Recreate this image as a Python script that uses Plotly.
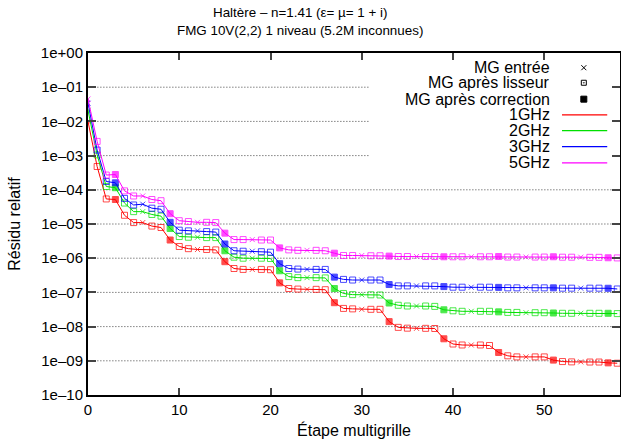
import plotly.graph_objects as go

# residu relatif par etape, etapes 0..58
steps = list(range(59))

res_1ghz = [1.0e-2, 4.8e-4, 5.4e-5, 5.2e-5, 1.8e-5, 1.1e-5, 1.1e-5, 8.7e-6, 7.9e-6, 3.4e-6,
            2.2e-6, 1.9e-6, 1.8e-6, 1.8e-6, 1.75e-6, 7.9e-7, 5.0e-7, 4.7e-7, 4.7e-7, 4.7e-7,
            4.6e-7, 1.9e-7, 1.3e-7, 1.25e-7, 1.23e-7, 1.23e-7, 1.2e-7, 5.0e-8, 3.4e-8, 3.3e-8,
            3.2e-8, 3.2e-8, 3.2e-8, 1.4e-8, 9.5e-9, 9.0e-9, 8.9e-9, 8.9e-9, 8.8e-9, 4.4e-9,
            3.1e-9, 2.9e-9, 2.9e-9, 2.9e-9, 2.8e-9, 1.75e-9, 1.4e-9, 1.3e-9, 1.3e-9, 1.3e-9,
            1.3e-9, 1.05e-9, 9.5e-10, 9.3e-10, 9.3e-10, 9.2e-10, 9.2e-10, 8.7e-10, 8.5e-10]

res_2ghz = [2.1e-2, 1.05e-3, 1.25e-4, 1.15e-4, 4.1e-5, 2.3e-5, 2.3e-5, 1.9e-5, 1.7e-5, 7.4e-6,
            4.3e-6, 4.1e-6, 4.1e-6, 4.0e-6, 4.0e-6, 1.65e-6, 1.07e-6, 1.0e-6, 1.0e-6, 1.0e-6,
            9.8e-7, 4.3e-7, 2.9e-7, 2.7e-7, 2.7e-7, 2.7e-7, 2.65e-7, 1.3e-7, 9.3e-8, 8.6e-8,
            8.5e-8, 8.5e-8, 8.4e-8, 4.9e-8, 4.2e-8, 4.0e-8, 4.0e-8, 4.0e-8, 3.9e-8, 3.1e-8,
            2.9e-8, 2.8e-8, 2.8e-8, 2.8e-8, 2.8e-8, 2.7e-8, 2.6e-8, 2.6e-8, 2.55e-8, 2.55e-8,
            2.55e-8, 2.5e-8, 2.45e-8, 2.45e-8, 2.45e-8, 2.45e-8, 2.45e-8, 2.45e-8, 2.4e-8]

res_3ghz = [3.4e-2, 1.45e-3, 1.75e-4, 1.6e-4, 5.6e-5, 3.6e-5, 3.8e-5, 2.9e-5, 2.7e-5, 1.12e-5,
            6.6e-6, 6.3e-6, 6.3e-6, 6.0e-6, 5.8e-6, 2.6e-6, 1.65e-6, 1.6e-6, 1.6e-6, 1.55e-6,
            1.5e-6, 6.9e-7, 5.0e-7, 4.8e-7, 4.7e-7, 4.7e-7, 4.7e-7, 2.8e-7, 2.4e-7, 2.3e-7,
            2.3e-7, 2.3e-7, 2.3e-7, 1.7e-7, 1.55e-7, 1.55e-7, 1.55e-7, 1.55e-7, 1.55e-7, 1.48e-7,
            1.42e-7, 1.42e-7, 1.42e-7, 1.42e-7, 1.42e-7, 1.4e-7, 1.36e-7, 1.36e-7, 1.36e-7, 1.36e-7,
            1.36e-7, 1.36e-7, 1.33e-7, 1.33e-7, 1.33e-7, 1.33e-7, 1.33e-7, 1.32e-7, 1.26e-7]

res_5ghz = [4.5e-2, 2.6e-3, 2.7e-4, 2.8e-4, 9.3e-5, 6.6e-5, 6.6e-5, 5.2e-5, 4.8e-5, 2.0e-5,
            1.25e-5, 1.18e-5, 1.12e-5, 1.12e-5, 1.1e-5, 5.4e-6, 3.5e-6, 3.5e-6, 3.5e-6, 3.4e-6,
            3.4e-6, 2.0e-6, 1.75e-6, 1.7e-6, 1.7e-6, 1.7e-6, 1.65e-6, 1.4e-6, 1.2e-6, 1.2e-6,
            1.2e-6, 1.18e-6, 1.18e-6, 1.15e-6, 1.12e-6, 1.12e-6, 1.12e-6, 1.12e-6, 1.12e-6, 1.1e-6,
            1.1e-6, 1.1e-6, 1.1e-6, 1.1e-6, 1.1e-6, 1.12e-6, 1.08e-6, 1.08e-6, 1.08e-6, 1.08e-6,
            1.08e-6, 1.1e-6, 1.07e-6, 1.07e-6, 1.07e-6, 1.06e-6, 1.06e-6, 1.03e-6, 1.02e-6]

series_names = ['1GHz', '2GHz', '3GHz', '5GHz']
series_colors = ['#ff0000', '#00e000', '#0000ff', '#ff00ff']
series_values = [res_1ghz, res_2ghz, res_3ghz, res_5ghz]

marker_names = ['MG entrée', 'MG après lisseur', 'MG après correction']

ytick_vals = [10.0 ** (-k) for k in range(11)]
ytick_text = ['1e+00'] + ['1e–%02d' % k for k in range(1, 11)]
xtick_vals = [0, 10, 20, 30, 40, 50]


# cycle V(2,2) : entree (x), 2 lissages, correction, 2 lissages
def step_symbol(s):
    if s % 6 == 0:
        return 'x-thin'
    if s % 6 == 3:
        return 'square'
    return 'square-open'


symbols = [step_symbol(s) for s in steps]
sizes = [5 if sym == 'x-thin' else 6 for sym in symbols]

fig = go.Figure()

# grille pointillee a chaque decade, coupee par la legende en haut a droite
for k in range(1, 10):
    x_end = 0.528 if k <= 3 else 1
    fig.add_shape(type='line', xref='paper', yref='paper', x0=0.012, x1=x_end,
                  y0=1 - k / 10, y1=1 - k / 10, layer='below',
                  line=dict(color='#444444', width=1, dash='1px,2px'))

for name, color, vals in zip(series_names, series_colors, series_values):
    fig.add_trace(go.Scatter(
        x=steps, y=vals, mode='lines+markers', name=name,
        line=dict(color=color, width=1),
        marker=dict(symbol=symbols, size=sizes, color=color,
                    line=dict(color=color, width=1)),
        showlegend=False,
    ))

# legende faite a la main (texte a gauche, symbole a droite, facon gnuplot)
leg_rows = [0.957, 0.913, 0.865, 0.819, 0.773, 0.726, 0.679]
leg_text_x = 0.872
leg_sym_x = 0.932
leg_line = (0.891, 0.976)

leg_symbols = ['x-thin', 'square-open-dot', 'square']
for i, (nm, sym) in enumerate(zip(marker_names, leg_symbols)):
    fig.add_annotation(x=leg_text_x, y=leg_rows[i], xref='paper', yref='paper', text=nm,
                       showarrow=False, xanchor='right', yanchor='middle',
                       font=dict(size=16, color='black'))
    fig.add_trace(go.Scatter(
        x=[leg_sym_x], y=[leg_rows[i]], xaxis='x2', yaxis='y2', mode='markers',
        marker=dict(symbol=sym, size=5 if sym != 'square' else 6, color='black',
                    line=dict(color='black', width=1)),
        showlegend=False, hoverinfo='skip',
    ))

for j, (nm, color) in enumerate(zip(series_names, series_colors)):
    row = leg_rows[3 + j]
    fig.add_annotation(x=leg_text_x, y=row, xref='paper', yref='paper', text=nm,
                       showarrow=False, xanchor='right', yanchor='middle',
                       font=dict(size=16, color='black'))
    fig.add_trace(go.Scatter(
        x=list(leg_line), y=[row, row], xaxis='x2', yaxis='y2', mode='lines',
        line=dict(color=color, width=1.3), showlegend=False, hoverinfo='skip',
    ))

# titre sur deux lignes, au-dessus du cadre
fig.add_annotation(x=0.3985, y=1.117, xref='paper', yref='paper',
                   text='Haltère – n=1.41 (ε= µ= 1 + i)', showarrow=False,
                   xanchor='center', yanchor='middle', font=dict(size=13.4))
fig.add_annotation(x=0.3985, y=1.067, xref='paper', yref='paper',
                   text='FMG 10V(2,2) 1 niveau (5.2M inconnues)', showarrow=False,
                   xanchor='center', yanchor='middle', font=dict(size=13.4))

fig.update_layout(
    width=621, height=442,
    margin=dict(l=88, r=1, t=53, b=47),
    paper_bgcolor='white', plot_bgcolor='white',
    font=dict(family='Liberation Sans, Arial, sans-serif', size=15, color='black'),
    xaxis=dict(range=[0, 58.3], tickvals=xtick_vals, ticks='inside', ticklen=7, tickwidth=2,
               showline=True, linecolor='black', linewidth=2, mirror='ticks',
               showgrid=False, zeroline=False, automargin=False,
               title=dict(text='Étape multigrille', standoff=8, font=dict(size=16))),
    yaxis=dict(type='log', range=[-10, 0], tickvals=ytick_vals, ticktext=ytick_text,
               ticks='inside', ticklen=8, tickwidth=2,
               showline=True, linecolor='black', linewidth=2, mirror='ticks',
               showgrid=False, zeroline=False, automargin=False,
               title=dict(text='Résidu relatif', standoff=16, font=dict(size=16))),
    xaxis2=dict(overlaying='x', range=[0, 1], visible=False, fixedrange=True),
    yaxis2=dict(overlaying='y', range=[0, 1], visible=False, fixedrange=True),
)

# pas de marge ni de barre de defilement autour de la figure
fig.write_html('out.html', config={'displayModeBar': False},
               post_script="document.body.style.margin='0';document.body.style.overflow='hidden';")
